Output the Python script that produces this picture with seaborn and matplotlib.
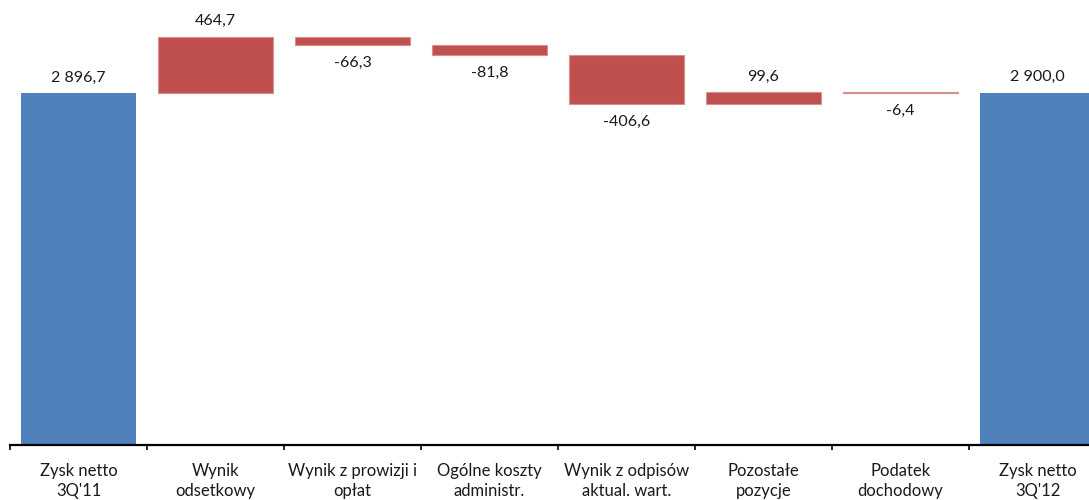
import numpy as np
import pandas as pd
import matplotlib
matplotlib.use("Agg")
import matplotlib.pyplot as plt
import seaborn as sns

categories = ["Zysk netto\n3Q'11", "Wynik\nodsetkowy", "Wynik z prowizji i\nopłat",
              "Ogólne koszty\nadministr.", "Wynik z odpisów\naktual. wart.",
              "Pozostałe\npozycje", "Podatek\ndochodowy", "Zysk netto\n3Q'12"]
start_value = 2896.7
changes = [464.7, -66.3, -81.8, -406.6, 99.6, -6.4]
end_value = 2900.0

BLUE = "#4F81BD"
RED = "#C0504D"


def fmt(v):
    s = f"{v:,.1f}".replace(",", " ").replace(".", ",")
    return s


sns.set_theme(style="white")
plt.rcParams["font.family"] = ["Lato", "DejaVu Sans"]

# waterfall geometry
cum = np.concatenate([[start_value], start_value + np.cumsum(changes)])
change_bottom = np.minimum(cum[:-1], cum[1:])
change_height = np.abs(changes)

totals = pd.DataFrame({"cat": [categories[0], categories[-1]],
                       "val": [start_value, end_value]})
steps = pd.DataFrame({"cat": categories[1:-1], "val": change_height})

fig = plt.figure(figsize=(10.89, 5), dpi=100)
ax = fig.add_axes([10 / 1089, 0.11, 1096 / 1089, 3500 * 0.1215 / 500])

sns.barplot(data=totals, x="cat", y="val", order=categories, color=BLUE,
            width=0.84, saturation=1, ax=ax, linewidth=0)
sns.barplot(data=steps, x="cat", y="val", order=categories, color=RED,
            width=0.84, saturation=1, ax=ax, bottom=change_bottom,
            edgecolor="#DB8E8C", linewidth=0.8)

ax.set_xlim(-0.5, len(categories) - 0.5)
ax.set_ylim(0, 3500)
ax.set_xlabel("")
ax.set_ylabel("")
ax.set_yticks([])
for side in ["top", "right", "left"]:
    ax.spines[side].set_visible(False)
ax.spines["bottom"].set_color("black")
ax.spines["bottom"].set_linewidth(1.6)

ax.set_xticks(range(len(categories)))
ax.set_xticklabels(categories, fontsize=12, linespacing=1.3, color="#1a1a1a")
ax.tick_params(axis="x", which="major", length=0, pad=13)
ax.set_xticks(np.arange(len(categories)) - 0.5, minor=True)
ax.tick_params(axis="x", which="minor", length=3.5, width=1.2, color="black",
               direction="out", bottom=True)

# value labels
label_kw = dict(ha="center", fontsize=11.5, color="#1a1a1a", textcoords="offset points")
ax.annotate(fmt(start_value), (0, start_value), xytext=(0, 6), va="bottom", **label_kw)
ax.annotate(fmt(end_value), (len(categories) - 1, end_value), xytext=(0, 6), va="bottom", **label_kw)
for i, c in enumerate(changes):
    x = i + 1
    if c > 0:
        ax.annotate(fmt(c), (x, cum[i] + c), xytext=(0, 6), va="bottom", **label_kw)
    else:
        ax.annotate(fmt(c), (x, cum[i] + c), xytext=(0, -8), va="top", **label_kw)

fig.savefig("out.png", dpi=100)
